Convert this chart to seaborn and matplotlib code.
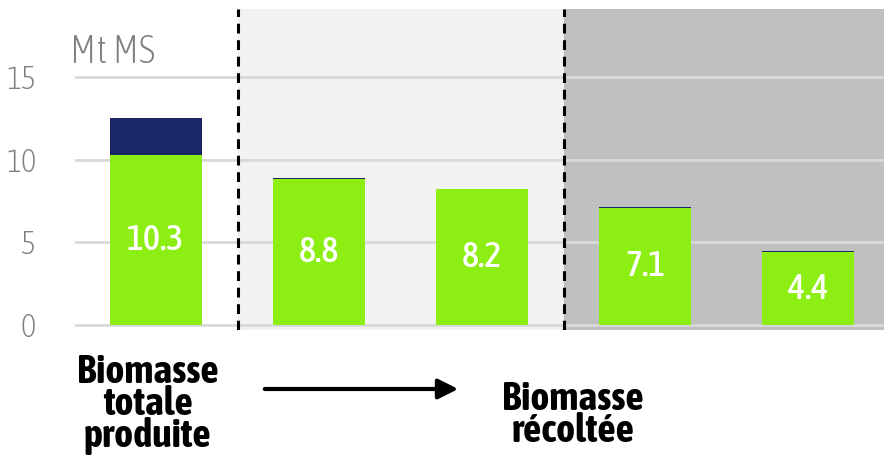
import pandas as pd
import seaborn as sns
import matplotlib.pyplot as plt
import matplotlib.patheffects as pe
from matplotlib import font_manager
from matplotlib.patches import FancyArrowPatch

# valeurs (Mt MS)
etapes = ['A', 'B', 'C', 'D', 'E']
vert = [10.3, 8.8, 8.2, 7.1, 4.4]
bleu = [2.2, 0.1, 0.05, 0.05, 0.05]
etiquettes = ['10.3', '8.8', '8.2', '7.1', '4.4']
yticks = [0, 5, 10, 15]

VERT = '#8cee12'
BLEU = '#1a2868'

# police étroite si disponible (de préférence avec une graisse grasse)
polices = font_manager.fontManager.ttflist
etroites = sorted({f.name for f in polices if 'Narrow' in f.name or 'Condensed' in f.name})
avec_gras = [n for n in etroites
             if any(f.name == n and f.weight in ('bold', 700, 600, 'semibold', 'demibold') for f in polices)]
if avec_gras:
    police, gras_reel = avec_gras[0], True
elif etroites:
    police, gras_reel = etroites[0], False
else:
    police, gras_reel = 'Roboto', True

sns.set_style('white')
plt.rcParams['font.family'] = [police, 'Roboto', 'DejaVu Sans']


def epais(couleur, w):
    # faux gras si la police n'a pas de graisse grasse
    if gras_reel:
        return []
    return [pe.withStroke(linewidth=w, foreground=couleur)]


df = pd.DataFrame({'etape': etapes, 'vert': vert, 'total': [v + b for v, b in zip(vert, bleu)]})

W, H = 884, 466
fig = plt.figure(figsize=(W / 100, H / 100), dpi=100)
ax = fig.add_axes([75 / W, (H - 330) / H, 1 - 75 / W, (330 - 9) / H])

sns.barplot(data=df, x='etape', y='total', color=BLEU, width=0.565, saturation=1,
            linewidth=0, ax=ax, zorder=3)
sns.barplot(data=df, x='etape', y='vert', color=VERT, width=0.565, saturation=1,
            linewidth=0, ax=ax, zorder=4)

ax.set_xlim(-0.497, 4.466)
ax.set_ylim(-0.3, 19.1)

# zones de fond
ax.axvspan(0.5, 2.5, color='#f2f2f2', zorder=0, lw=0)
ax.axvspan(2.5, 4.466, color='#c0c0c0', zorder=0, lw=0)
for y in yticks:
    ax.axhline(y, color='#d9d9d9', lw=2, zorder=1)
for x in [0.5, 2.5]:
    ax.axvline(x, color='black', lw=2.2, ls=(0, (3.2, 2.2)), zorder=5)

for i, (v, t) in enumerate(zip(vert, etiquettes)):
    ax.text(i, v / 2, t, ha='center', va='center', color='white',
            fontsize=26, fontweight='medium', zorder=6, path_effects=epais('white', 0.8))

ax.set_yticks(yticks)
ax.set_yticklabels([str(t) for t in yticks], color='#7f7f7f', fontsize=23, fontweight='light')
ax.tick_params(axis='y', length=0, pad=28)
ax.set_xticks([])
ax.set_xlabel('')
ax.set_ylabel('')
for s in ax.spines.values():
    s.set_visible(False)

fig.text(70 / W, (H - 63) / H, 'Mt MS', color='#7f7f7f', fontsize=28, fontweight='light',
         va='baseline')

fig.text(148 / W, (H - 353) / H, 'Biomasse\ntotale\nproduite', ha='center', va='top',
         fontsize=29, fontweight='bold', linespacing=0.8, color='black',
         path_effects=epais('black', 2))
fig.text(573 / W, (H - 380) / H, 'Biomasse\nrécoltée', ha='center', va='top',
         fontsize=29, fontweight='bold', linespacing=0.8, color='black',
         path_effects=epais('black', 2))
fig.patches.append(FancyArrowPatch(
    (262 / W, (H - 389) / H), (461 / W, (H - 389) / H), transform=fig.transFigure,
    arrowstyle='-|>', mutation_scale=30, lw=3, color='black'))

fig.savefig('out.png', dpi=100)
